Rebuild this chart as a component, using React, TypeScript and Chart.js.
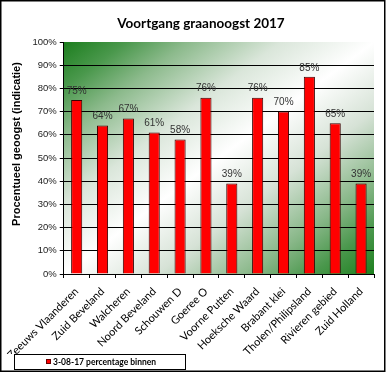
import React, { useEffect, useRef } from "react";
import { Chart, registerables } from "chart.js";

Chart.register(...registerables);

const chartTitle = "Voortgang graanoogst 2017";
const yAxisTitle = "Procentueel geoogst (indicatie)";
const seriesLabel = "3-08-17 percentage binnen";
const categories = [
  "Zeeuws Vlaanderen",
  "Zuid Beveland",
  "Walcheren",
  "Noord Beveland",
  "Schouwen D",
  "Goeree O",
  "Voorne Putten",
  "Hoeksche Waard",
  "Brabant klei",
  "Tholen/Philipsland",
  "Rivieren gebied",
  "Zuid Holland",
];
const values = [75, 64, 67, 61, 58, 76, 39, 76, 70, 85, 65, 39];
const yMin = 0;
const yMax = 100;
const yStep = 10;

const W = 388;
const H = 374;

const decor = {
  id: "decor",
  beforeDraw(chart: any) {
    const { ctx } = chart;
    const { left, top, right, bottom } = chart.chartArea;
    ctx.save();
    ctx.fillStyle = "#ffffff";
    ctx.fillRect(0, 0, W, H);
    const w = right - left;
    const h = bottom - top;
    const cx = (left + right) / 2;
    const cy = (top + bottom) / 2;
    const L = Math.sqrt(w * w + h * h);
    const d = (w * h) / L;
    const ux = h / L;
    const uy = w / L;
    const g = ctx.createLinearGradient(cx - d * ux, cy - d * uy, cx + d * ux, cy + d * uy);
    g.addColorStop(0, "#1c7e1e");
    g.addColorStop(0.1, "#4a984c");
    g.addColorStop(0.2, "#8cba8c");
    g.addColorStop(0.35, "#dae6da");
    g.addColorStop(0.5, "#ffffff");
    g.addColorStop(0.65, "#d6e2d6");
    g.addColorStop(0.8, "#88b788");
    g.addColorStop(0.9, "#4a974c");
    g.addColorStop(1, "#1e801f");
    ctx.fillStyle = g;
    ctx.fillRect(left, top, w, h);
    ctx.restore();
  },
  afterDatasetsDraw(chart: any) {
    const { ctx } = chart;
    const meta = chart.getDatasetMeta(0);
    const data = chart.data.datasets[0].data;
    ctx.save();
    ctx.font = "10px 'Liberation Sans', Arial, sans-serif";
    ctx.fillStyle = "#333333";
    ctx.textAlign = "center";
    ctx.textBaseline = "bottom";
    meta.data.forEach((el: any, i: number) => {
      ctx.fillText(data[i] + "%", el.x, el.y - 4);
    });
    ctx.restore();
  },
  afterDraw(chart: any) {
    const { ctx } = chart;
    ctx.save();
    // title
    ctx.font = "bold 13.5px Lato, sans-serif";
    ctx.fillStyle = "#000";
    ctx.textAlign = "center";
    ctx.textBaseline = "alphabetic";
    ctx.fillText(chartTitle, 201, 28);
    // y axis title
    ctx.save();
    ctx.translate(20, 144);
    ctx.rotate(-Math.PI / 2);
    ctx.font = "bold 11px 'Liberation Sans', Arial, sans-serif";
    ctx.textBaseline = "alphabetic";
    ctx.fillText(yAxisTitle, 0, 0);
    ctx.restore();
    // legend
    const ds = chart.data.datasets[0];
    ctx.strokeStyle = "#000";
    ctx.lineWidth = 1;
    ctx.strokeRect(14.5, 354.5, 171, 15);
    ctx.fillStyle = ds.backgroundColor;
    ctx.fillRect(46, 359, 5, 5);
    ctx.strokeStyle = "#600";
    ctx.strokeRect(46.5, 359.5, 4, 4);
    ctx.fillStyle = "#000";
    ctx.font = "bold 8.5px Lato, sans-serif";
    ctx.textAlign = "left";
    ctx.textBaseline = "middle";
    ctx.fillText(ds.label, 53, 362);
    // outer border
    ctx.strokeStyle = "#000";
    ctx.lineWidth = 1.5;
    ctx.strokeRect(0.75, 0.75, 384, 370.5);
    ctx.restore();
  },
};

export default function App() {
  const ref = useRef<HTMLCanvasElement | null>(null);
  useEffect(() => {
    document.body.style.margin = "0";
    const canvas = ref.current!;
    const chart = new Chart(canvas, {
      type: "bar",
      data: {
        labels: categories,
        datasets: [
          {
            label: seriesLabel,
            data: values,
            backgroundColor: "#ff0000",
            borderColor: "#3a0000",
            borderWidth: 1,
            categoryPercentage: 1,
            barPercentage: 0.43,
          },
        ],
      },
      options: {
        animation: false,
        responsive: false,
        devicePixelRatio: 1,
        layout: { padding: { left: 0, right: 14, top: 42, bottom: 20 } },
        plugins: {
          legend: { display: false },
          title: { display: false },
          tooltip: { enabled: false },
        },
        scales: {
          x: {
            offset: true,
            grid: {
              offset: true,
              drawOnChartArea: false,
              color: "#000",
              tickColor: "#000",
              tickLength: 4,
            },
            border: { display: true, color: "#000", width: 1 },
            ticks: {
              autoSkip: false,
              maxRotation: 45,
              minRotation: 45,
              padding: 7,
              color: "#000",
              font: { family: "Lato, sans-serif", size: 11 },
            },
            afterFit: (s: any) => {
              s.height = 80;
            },
          },
          y: {
            min: yMin,
            max: yMax,
            ticks: {
              stepSize: yStep,
              padding: 3,
              color: "#222",
              font: { family: "'Liberation Sans', Arial, sans-serif", size: 9.5 },
              callback: (v: any) => v + "%",
            },
            grid: {
              color: (c: any) => (c.tick && c.tick.value === yMax ? "rgba(0,0,0,0)" : "#000"),
              tickColor: "#000",
              tickLength: 4,
              lineWidth: 1,
            },
            border: { display: true, color: "#000", width: 1 },
            afterFit: (s: any) => {
              s.width = 59;
            },
          },
        },
      },
      plugins: [decor],
    } as any);
    return () => chart.destroy();
  }, []);
  return (
    <canvas
      ref={ref}
      width={W}
      height={H}
      style={{ display: "block", width: W, height: H }}
    />
  );
}
